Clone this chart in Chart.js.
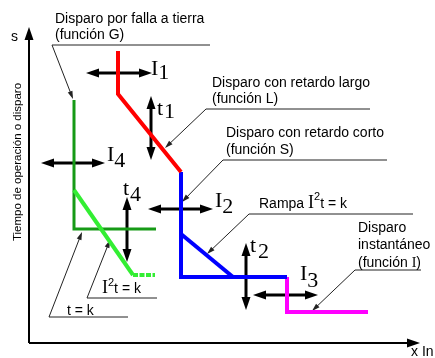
<!DOCTYPE html>
<html>
<head>
<meta charset="utf-8">
<script src="https://cdn.jsdelivr.net/npm/chart.js@4.4.1/dist/chart.umd.min.js"></script>
<style>
  body { margin: 0; background: #fff; }
</style>
</head>
<body>
<canvas id="tripChart" width="435" height="358"></canvas>
<script>
// schematic units: x = current (x In), y = trip time (s), origin at the axes corner
var axisX = [[0, 0], [391, 0]];
var axisY = [[0, 0], [0, 316]];

var functionL = [[89, 292], [89, 249], [152, 171]];
var functionS = [[152, 171], [152, 66], [258, 66]];
var rampS = [[152, 109], [204, 66]];
var functionI = [[258, 66], [258, 31], [339, 31]];
var functionG = [[45, 243], [45, 114], [127, 114]];
var rampG = [[45, 153], [104, 68], [126, 68]];

// setting ranges (double arrows)
var arrowI1 = [[57, 270], [123, 270]];
var arrowT1 = [[122, 247], [122, 183]];
var arrowI4 = [[12, 180], [76, 180]];
var arrowT4 = [[98, 146], [98, 81]];
var arrowI2 = [[119, 134], [184, 134]];
var arrowT2 = [[217, 100], [217, 33]];
var arrowI3 = [[224, 48], [289, 48]];

// callouts: underline then leader to the curve
var leaderG = [[181, 298], [23, 298], [44, 244]];
var leaderL = [[341, 234], [177, 234], [136, 195]];
var leaderS = [[358, 183], [194, 183], [153, 141]];
var leaderRamp = [[384, 129], [220, 129], [178, 89]];
var leaderI = [[392, 73], [326, 73], [283, 32]];
var leaderTk = [[99, 26], [20, 26], [53, 111]];
var leaderI2tk = [[128, 45], [58, 45], [81, 103]];

var SANS = '14px "Liberation Sans", Arial, sans-serif';
var SANS_SUP = '11px "Liberation Sans", Arial, sans-serif';
var SERIF = '22px "Liberation Serif", "Times New Roman", serif';
var SERIF_M = '18px "Liberation Serif", "Times New Roman", serif';
var SERIF_S = '14px "Liberation Serif", "Times New Roman", serif';

var labels = [
  {x: 26, y: 320, runs: [[SANS, 'Disparo por falla a tierra']]},
  {x: 26, y: 304, runs: [[SANS, '(función G)']]},
  {x: 183, y: 256, runs: [[SANS, 'Disparo con retardo largo']]},
  {x: 183, y: 240, runs: [[SANS, '(función L)']]},
  {x: 197, y: 206, runs: [[SANS, 'Disparo con retardo corto']]},
  {x: 197, y: 189, runs: [[SANS, '(función S)']]},
  {x: 230, y: 135, runs: [[SANS, 'Rampa '], [SERIF_M, 'I'], [SANS_SUP, '2', -8], [SANS, 't = k']]},
  {x: 329, y: 111, runs: [[SANS, 'Disparo']]},
  {x: 329, y: 94, runs: [[SANS, 'instantáneo']]},
  {x: 329, y: 76, runs: [[SANS, '(función '], [SERIF_S, 'I'], [SANS, ')']]},
  {x: 38, y: 28, runs: [[SANS, 't = k']]},
  {x: 73, y: 50, runs: [[SERIF_M, 'I'], [SANS_SUP, '2', -7], [SANS, 't = k']]},
  {x: -18, y: 302, runs: [[SANS, 's']]},
  {x: 382, y: -13, runs: [[SANS, 'x In']]},
  {x: 122, y: 268, runs: [[SERIF, 'I'], [SERIF, '1', 4]]},
  {x: 128, y: 228, runs: [[SERIF, 't'], [SERIF, '1', 3, 1]]},
  {x: 78, y: 182, runs: [[SERIF, 'I'], [SERIF, '4', 6]]},
  {x: 94, y: 148, runs: [[SERIF, 't'], [SERIF, '4', 6, 1]]},
  {x: 186, y: 136, runs: [[SERIF, 'I'], [SERIF, '2', 6]]},
  {x: 221, y: 91, runs: [[SERIF, 't'], [SERIF, '2', 6, 2]]},
  {x: 271, y: 63, runs: [[SERIF, 'I'], [SERIF, '3', 7]]}
];
var yTitle = {x: -8, y: 181, text: 'Tiempo de operación o disparo', font: '11.5px "Liberation Sans", Arial, sans-serif'};

function pt(p) { return {x: p[0], y: p[1]}; }

function line(points, color, width, extra) {
  var ds = {
    data: points.map(pt),
    borderColor: color,
    backgroundColor: color,
    borderWidth: width,
    showLine: true,
    pointRadius: 0,
    pointHoverRadius: 0,
    fill: false,
    tension: 0,
    borderJoinStyle: 'miter'
  };
  return Object.assign(ds, extra || {});
}

function dblArrow(points) {
  return line(points, '#000', 3, {heads: 'both', headLen: 13, headHalf: 4.5, order: 1});
}
function leader(points) {
  return line(points, '#222', 1, {heads: 'end', headLen: 8, headHalf: 2.5, order: 2});
}

function arrowEnds(meta, ds) {
  var p = meta.data, n = p.length, out = [];
  if (ds.heads === 'both' || ds.heads === 'start') out.push([p[0], p[1]]);
  if (ds.heads === 'both' || ds.heads === 'end') out.push([p[n - 1], p[n - 2]]);
  return out;
}

function unitDir(tip, from) {
  var dx = tip.x - from.x, dy = tip.y - from.y;
  var d = Math.sqrt(dx * dx + dy * dy) || 1;
  return [dx / d, dy / d];
}

// hide the shaft under each head, then draw the filled head
var arrowPlugin = {
  id: 'arrowHeads',
  beforeDatasetDraw: function(chart, args) {
    var ds = chart.data.datasets[args.index];
    if (!ds.heads) return;
    var ctx = chart.ctx;
    ctx.save();
    ctx.beginPath();
    ctx.rect(0, 0, chart.width, chart.height);
    arrowEnds(args.meta, ds).forEach(function(e) {
      var t = e[0], u = unitDir(e[0], e[1]);
      var w = ds.borderWidth / 2 + 1, back = ds.headLen - 1.5;
      var nx = -u[1] * w, ny = u[0] * w;
      var fx = t.x + u[0] * 3, fy = t.y + u[1] * 3;
      var bx = t.x - u[0] * back, by = t.y - u[1] * back;
      ctx.moveTo(fx + nx, fy + ny);
      ctx.lineTo(bx + nx, by + ny);
      ctx.lineTo(bx - nx, by - ny);
      ctx.lineTo(fx - nx, fy - ny);
      ctx.closePath();
    });
    ctx.clip('evenodd');
  },
  afterDatasetDraw: function(chart, args) {
    var ds = chart.data.datasets[args.index];
    if (!ds.heads) return;
    var ctx = chart.ctx;
    ctx.restore();
    ctx.save();
    ctx.fillStyle = ds.borderColor;
    arrowEnds(args.meta, ds).forEach(function(e) {
      var t = e[0], u = unitDir(e[0], e[1]);
      var bx = t.x - u[0] * ds.headLen, by = t.y - u[1] * ds.headLen;
      var nx = -u[1] * ds.headHalf, ny = u[0] * ds.headHalf;
      ctx.beginPath();
      ctx.moveTo(t.x, t.y);
      ctx.lineTo(bx + nx, by + ny);
      ctx.lineTo(bx - nx, by - ny);
      ctx.closePath();
      ctx.fill();
    });
    ctx.restore();
  }
};

var textPlugin = {
  id: 'schemeText',
  afterDraw: function(chart) {
    var ctx = chart.ctx, sx = chart.scales.x, sy = chart.scales.y;
    ctx.save();
    ctx.fillStyle = '#000';
    ctx.textBaseline = 'alphabetic';
    ctx.textAlign = 'left';
    labels.forEach(function(l) {
      var x = sx.getPixelForValue(l.x), y = sy.getPixelForValue(l.y);
      l.runs.forEach(function(r) {
        ctx.font = r[0];
        x += r[3] || 0;
        ctx.fillText(r[1], x, y + (r[2] || 0));
        x += ctx.measureText(r[1]).width;
      });
    });
    ctx.translate(sx.getPixelForValue(yTitle.x), sy.getPixelForValue(yTitle.y));
    ctx.rotate(-Math.PI / 2);
    ctx.font = yTitle.font;
    ctx.textAlign = 'center';
    ctx.fillText(yTitle.text, 0, 0);
    ctx.restore();
  }
};

var ctx1 = document.getElementById('tripChart').getContext('2d');
var tripChart = new Chart(ctx1, {
  type: 'scatter',
  data: {
    datasets: [
      line(rampG, '#33ee33', 4, {order: 0, segment: {borderDash: function(c) { return c.p0DataIndex === 1 ? [5, 1.5] : undefined; }}}),
      line(functionG, '#169a16', 3, {order: 0}),
      line(functionL, '#ff0000', 4, {order: 0}),
      line(functionS, '#0000ff', 4, {order: 0}),
      line(rampS, '#0000ff', 4, {order: 0}),
      line(functionI, '#ff00ff', 4, {order: 0}),
      dblArrow(arrowI1), dblArrow(arrowT1), dblArrow(arrowI4), dblArrow(arrowT4),
      dblArrow(arrowI2), dblArrow(arrowT2), dblArrow(arrowI3),
      leader(leaderG), leader(leaderL), leader(leaderS), leader(leaderRamp),
      leader(leaderI), leader(leaderTk), leader(leaderI2tk),
      line(axisX, '#000', 2, {heads: 'end', headLen: 13, headHalf: 4.5, order: 3}),
      line(axisY, '#000', 2, {heads: 'end', headLen: 13, headHalf: 4.5, order: 3})
    ]
  },
  options: {
    responsive: false,
    animation: false,
    layout: { padding: 0 },
    plugins: { legend: { display: false }, tooltip: { enabled: false } },
    scales: {
      x: { type: 'linear', min: -29, max: 406, display: false },
      y: { type: 'linear', min: -15, max: 343, display: false }
    }
  },
  plugins: [arrowPlugin, textPlugin]
});
</script>
</body>
</html>
